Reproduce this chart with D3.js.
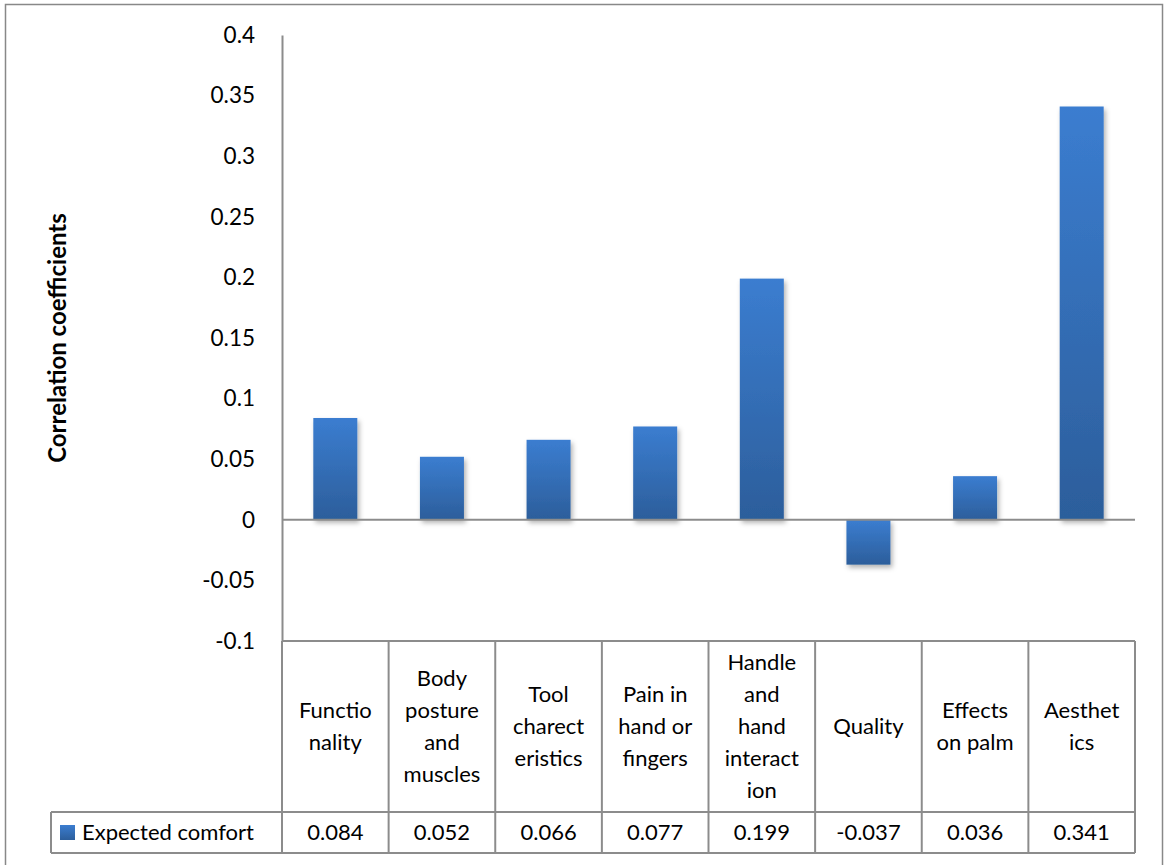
<!DOCTYPE html>
<html><head><meta charset="utf-8">
<script src="https://cdn.jsdelivr.net/npm/d3@7"></script>
<style>body{margin:0;background:#fff}svg text{font-family:Lato,"Open Sans",sans-serif;fill:#000}</style>
</head><body><svg id="c" width="1164" height="865"></svg>
<script>
const categories = ["Functionality","Body posture and muscles","Tool charecteristics","Pain in hand or fingers","Handle and hand interaction","Quality","Effects on palm","Aesthetics"];
const categoryLines = [["Functio","nality"],["Body","posture","and","muscles"],["Tool","charect","eristics"],["Pain in","hand or","fingers"],["Handle","and","hand","interact","ion"],["Quality"],["Effects","on palm"],["Aesthet","ics"]];
const seriesName = "Expected comfort";
const values = [0.084,0.052,0.066,0.077,0.199,-0.037,0.036,0.341];
const valueLabels = ["0.084","0.052","0.066","0.077","0.199","-0.037","0.036","0.341"];
const yTicks = [-0.1,-0.05,0,0.05,0.1,0.15,0.2,0.25,0.3,0.35,0.4];
const yTickLabels = ["-0.1","-0.05","0","0.05","0.1","0.15","0.2","0.25","0.3","0.35","0.4"];

const svg = d3.select("#c");
const grid = "#8c8c8c";
const L = 282, R = 1135, T = 35, B = 641;
const x = d3.scaleBand().domain(categories).range([L, R]).paddingInner(0).paddingOuter(0);
const y = d3.scaleLinear().domain([-0.1, 0.4]).range([B, T]);

// outer border
svg.append("rect").attr("x",5.5).attr("y",4.5).attr("width",1157).attr("height",870)
  .attr("fill","none").attr("stroke","#888").attr("stroke-width",1.5);

const defs = svg.append("defs");
const g = defs.append("linearGradient").attr("id","bg").attr("x1",0).attr("y1",0).attr("x2",0).attr("y2",1);
g.append("stop").attr("offset","0%").attr("stop-color","#3b7dd0");
g.append("stop").attr("offset","100%").attr("stop-color","#2c5e9b");
const f = defs.append("filter").attr("id","sh").attr("x","-20%").attr("y","-20%").attr("width","150%").attr("height","150%");
f.append("feDropShadow").attr("dx",2).attr("dy",3).attr("stdDeviation",2.5).attr("flood-color","#000").attr("flood-opacity",0.3);

// y axis
const yAxis = d3.axisLeft(y).tickValues(yTicks).tickFormat((d,i)=>yTickLabels[i]).tickSize(0).tickPadding(27);
const ya = svg.append("g").attr("transform",`translate(${L},0)`).call(yAxis);
ya.select(".domain").attr("stroke",grid).attr("stroke-width",2);
ya.selectAll("text").attr("font-size",22.5).attr("font-family","Lato, sans-serif").attr("fill","#000");

// bars
const bw = 44;
svg.append("g").selectAll("rect").data(values).join("rect")
  .attr("x",(d,i)=>x(categories[i]) + x.bandwidth()/2 - bw/2)
  .attr("y",d=>y(Math.max(0,d)))
  .attr("width",bw)
  .attr("height",d=>Math.abs(y(d)-y(0)))
  .attr("fill","url(#bg)")
  .attr("filter","url(#sh)");

// zero line
svg.append("line").attr("x1",L).attr("x2",R).attr("y1",y(0)).attr("y2",y(0)).attr("stroke",grid).attr("stroke-width",2);

// data table
const rowTop = B, rowMid = 812, rowBot = 853, legL = 51;
const tl = svg.append("g").attr("stroke",grid).attr("stroke-width",2);
tl.append("line").attr("x1",L).attr("x2",R).attr("y1",rowTop).attr("y2",rowTop);
tl.append("line").attr("x1",legL).attr("x2",R).attr("y1",rowMid).attr("y2",rowMid);
tl.append("line").attr("x1",legL).attr("x2",R).attr("y1",rowBot).attr("y2",rowBot);
tl.append("line").attr("x1",legL).attr("x2",legL).attr("y1",rowMid).attr("y2",rowBot);
const edges = categories.map(c=>x(c)).concat([R]);
tl.selectAll(".v").data(edges).join("line").attr("x1",d=>d).attr("x2",d=>d).attr("y1",rowTop).attr("y2",rowBot);

// category labels
const lh = 32, cy = 726;
categories.forEach((c,i)=>{
  const lines = categoryLines[i];
  const cx = x(c) + x.bandwidth()/2;
  const t = svg.append("text").attr("text-anchor","middle").attr("font-size",22);
  lines.forEach((ln,j)=>{
    t.append("tspan").attr("x",cx).attr("y",cy + (j-(lines.length-1)/2)*lh).attr("dy","0.35em").text(ln);
  });
});
// values
svg.append("g").selectAll("text").data(valueLabels).join("text")
  .attr("x",(d,i)=>x(categories[i])+x.bandwidth()/2).attr("y",(rowMid+rowBot)/2).attr("dy","0.35em")
  .attr("text-anchor","middle").attr("font-size",22).text(d=>d);

// legend
svg.append("rect").attr("x",60).attr("y",825).attr("width",15).attr("height",15).attr("fill","url(#bg)");
svg.append("text").attr("x",82).attr("y",(rowMid+rowBot)/2).attr("dy","0.35em").attr("font-size",22).text(seriesName);

// y title
svg.append("text").attr("transform","translate(66,338) rotate(-90)").attr("text-anchor","middle")
  .attr("font-size",24).attr("font-weight","bold").text("Correlation coefficients");
</script></body></html>
